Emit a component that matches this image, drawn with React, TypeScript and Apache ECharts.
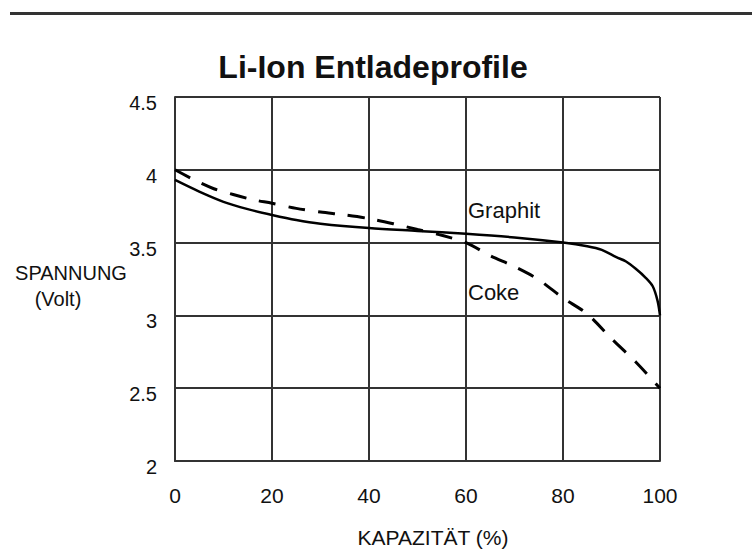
import React, { useEffect, useRef } from "react";
import * as echarts from "echarts";

const title = "Li-Ion Entladeprofile";
const xTicks = [0, 20, 40, 60, 80, 100];
const yTicks = [2, 2.5, 3, 3.5, 4, 4.5];

const graphitX = [0, 5, 10, 15, 20, 25, 30, 40, 50, 60, 70, 80, 85, 88, 91, 93, 95, 97, 98.5, 99.5, 100];
const graphitY = [3.93, 3.85, 3.78, 3.73, 3.69, 3.655, 3.63, 3.6, 3.58, 3.56, 3.535, 3.5, 3.475, 3.45, 3.4, 3.37, 3.32, 3.26, 3.2, 3.1, 3.0];

const cokeX = [0, 4, 8, 12, 16, 20, 25, 30, 35, 40, 45, 50, 55, 60, 65, 70, 75, 80, 85, 90, 95, 100];
const cokeY = [4.0, 3.93, 3.87, 3.83, 3.795, 3.77, 3.735, 3.71, 3.69, 3.665, 3.63, 3.59, 3.55, 3.5, 3.41, 3.335, 3.245, 3.12, 3.01, 2.84, 2.68, 2.5];

const seriesNames = ["Graphit", "Coke"];
const yAxisTitle = ["SPANNUNG", "(Volt)"];
const xAxisTitle = "KAPAZITÄT (%)";

const FONT = "'Liberation Sans', Arial, sans-serif";

export default function App() {
  const ref = useRef<HTMLDivElement>(null);
  useEffect(() => {
    if (!ref.current) return;
    const chart = echarts.init(ref.current, undefined, { renderer: "svg" });
    const gridLine = { lineStyle: { color: "#333", width: 2 } };
    chart.setOption({
      animation: false,
      backgroundColor: "#fff",
      grid: { left: 175, right: 92, top: 97, bottom: 96, show: false },
      xAxis: {
        type: "value",
        min: xTicks[0],
        max: xTicks[xTicks.length - 1],
        interval: 20,
        axisLine: { show: true, ...gridLine },
        axisTick: { show: false },
        splitLine: { show: true, ...gridLine },
        axisLabel: { color: "#111", fontSize: 21, fontFamily: FONT, margin: 24 },
      },
      yAxis: {
        type: "value",
        min: yTicks[0],
        max: yTicks[yTicks.length - 1],
        interval: 0.5,
        axisLine: { show: true, ...gridLine },
        axisTick: { show: false },
        splitLine: { show: true, ...gridLine },
        axisLabel: {
          color: "#111",
          fontSize: 20,
          fontFamily: FONT,
          margin: 18,
          verticalAlign: "top",
          lineHeight: 12,
        },
      },
      series: [
        {
          name: seriesNames[0],
          type: "line",
          showSymbol: false,
          smooth: 0.3,
          data: graphitX.map((x, i) => [x, graphitY[i]]),
          lineStyle: { color: "#000", width: 2.5 },
        },
        {
          name: seriesNames[1],
          type: "line",
          showSymbol: false,
          smooth: 0.3,
          data: cokeX.map((x, i) => [x, cokeY[i]]),
          lineStyle: { color: "#000", width: 3, type: [17, 13] },
        },
      ],
      graphic: [
        { type: "rect", shape: { x: 10, y: 12, width: 742, height: 3 }, style: { fill: "#333" } },
        {
          type: "text",
          x: 373,
          y: 67,
          style: { text: title, fill: "#111", font: `bold 32px ${FONT}`, textAlign: "center", textVerticalAlign: "middle" },
        },
        {
          type: "text",
          x: 71,
          y: 273,
          style: { text: yAxisTitle[0], fill: "#111", font: `20px ${FONT}`, textAlign: "center", textVerticalAlign: "middle" },
        },
        {
          type: "text",
          x: 58,
          y: 299,
          style: { text: yAxisTitle[1], fill: "#111", font: `20px ${FONT}`, textAlign: "center", textVerticalAlign: "middle" },
        },
        {
          type: "text",
          x: 433,
          y: 537,
          style: { text: xAxisTitle, fill: "#111", font: `21px ${FONT}`, textAlign: "center", textVerticalAlign: "middle" },
        },
        {
          type: "text",
          x: 468,
          y: 210,
          style: { text: seriesNames[0], fill: "#111", font: `22px ${FONT}`, textAlign: "left", textVerticalAlign: "middle" },
        },
        {
          type: "text",
          x: 468,
          y: 292,
          style: { text: seriesNames[1], fill: "#111", font: `22px ${FONT}`, textAlign: "left", textVerticalAlign: "middle" },
        },
      ],
    });
    return () => chart.dispose();
  }, []);
  return <div ref={ref} style={{ position: "fixed", left: 0, top: 0, width: 752, height: 557 }} />;
}
